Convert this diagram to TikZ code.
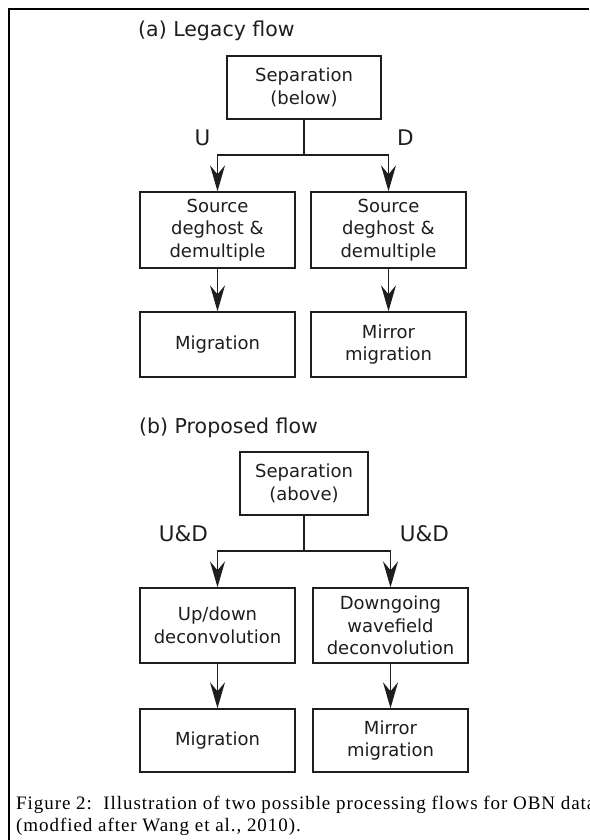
\documentclass[tikz,border=0pt]{standalone}
\usepackage{fontspec}
\setmainfont{DejaVu Sans}
\newfontfamily\capfont[LetterSpace=5]{Liberation Serif}
\usepackage{tikz}
\usetikzlibrary{arrows.meta,positioning}
\definecolor{ink}{HTML}{1E1E1E}
\definecolor{frame}{HTML}{000000}

\begin{document}
\begin{tikzpicture}[x=1pt, y=-1pt,
  stage/.style={draw=ink, line width=1.4pt, align=center, inner sep=0pt,
    minimum width=155pt, font=\fontsize{18}{22.5}\selectfont, text=ink},
  flow/.style={-{Stealth[length=26pt, width=15pt, inset=9pt]}, draw=ink, line width=1.4pt},
  link/.style={draw=ink, line width=1.4pt},
  tag/.style={font=\fontsize{21.5}{25}\selectfont, text=ink, inner sep=0pt},
  heading/.style={font=\fontsize{20.5}{25}\selectfont, text=ink, anchor=base west, inner sep=0pt}]
\useasboundingbox (0,0) rectangle (589,840);
\fill[white] (0,0) rectangle (589,840);
\draw[frame, line width=2.7pt] (589,9) -- (9,9) -- (9,840);

% (a) legacy flow
\node[heading] (headA) at (138,37) {(a) Legacy flow};
\node[stage, minimum width=154pt, minimum height=63pt] (sepA) at (304,87.5) {Separation\\(below)};
\coordinate (jA) at (304,155);
\node[stage, minimum height=76pt] (srcL) at (217.5,230) {Source\\deghost \&\\demultiple};
\node[stage, minimum height=76pt] (srcR) at (388.5,230) {Source\\deghost \&\\demultiple};
\node[stage, minimum height=65pt] (migL) at (217.5,344.5) {Migration};
\node[stage, minimum height=65pt] (migR) at (388.5,344.5) {Mirror\\migration};
\node[tag] (labU) at (202.5,138) {U};
\node[tag] (labD) at (405.5,138) {D};

\draw[link] (sepA) -- (jA);
\draw[flow] (jA) -| (srcL);
\draw[flow] (jA) -| (srcR);
\foreach \a/\b in {srcL/migL, srcR/migR}
  \draw[flow] (\a) -- (\b);

% (b) proposed flow
\node[heading] (headB) at (139,433) {(b) Proposed flow};
\node[stage, minimum width=128pt, minimum height=63pt] (sepB) at (304,483.5) {Separation\\(above)};
\coordinate (jB) at (304,551);
\node[stage, minimum height=75pt] (decL) at (217.5,625.5) {Up/down\\deconvolution};
\node[stage, minimum height=75pt] (decR) at (390.5,625.5) {Downgoing\\wavefield\\deconvolution};
\node[stage, minimum height=63pt] (migL2) at (217.5,740.5) {Migration};
\node[stage, minimum height=63pt] (migR2) at (390.5,740.5) {Mirror\\migration};
\node[tag] (labL) at (183.5,534) {U\&D};
\node[tag] (labR) at (424.5,534) {U\&D};

\draw[link] (sepB) -- (jB);
\draw[flow] (jB) -| (decL);
\draw[flow] (jB) -| (decR);
\foreach \a/\b in {decL/migL2, decR/migR2}
  \draw[flow] (\a) -- (\b);

% caption (base = last line)
\node[font=\capfont\fontsize{19}{22}\selectfont, anchor=base west, align=left, inner sep=0pt]
  (cap) at (16,831) {Figure 2:\ \ Illustration of two possible processing flows for OBN data\\(modfied after Wang et al., 2010).};
\end{tikzpicture}
\end{document}
